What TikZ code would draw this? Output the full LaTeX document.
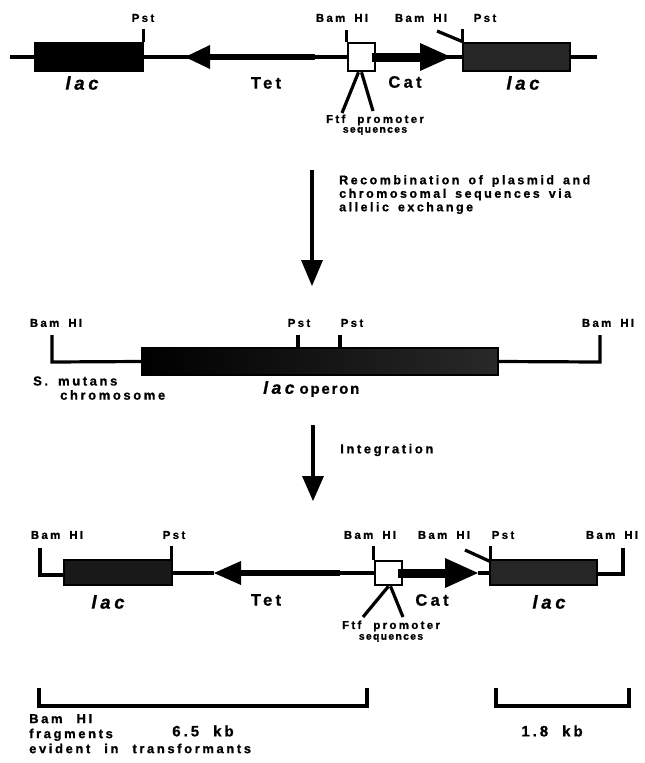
\documentclass[tikz,border=0pt]{standalone}
\usepackage{fontspec}
\setmainfont{Liberation Sans}[BoldFeatures={FakeBold=0.8}]
\newfontfamily\fA{Liberation Sans}[LetterSpace=20,BoldFeatures={FakeBold=0.8},BoldItalicFeatures={FakeBold=0.8}]
\newfontfamily\fC{Liberation Sans}[LetterSpace=12,BoldFeatures={FakeBold=0.8}]
\newcommand{\wsp}[1]{\spaceskip=#1pt plus 0pt minus 0pt\relax}
\begin{document}
\begin{tikzpicture}[x=1pt,y=-1pt,
  lab/.style={font=\fA\bfseries\fontsize{11.5}{13}\selectfont\wsp{9}, inner sep=0pt},
  ftf/.style={font=\fA\bfseries\fontsize{11.5}{13}\selectfont\wsp{12}, inner sep=0pt},
  seqs/.style={font=\fC\bfseries\fontsize{10.5}{12}\selectfont, inner sep=0pt},
  big/.style={font=\fA\bfseries\fontsize{16.5}{18}\selectfont, inner sep=0pt},
  lacl/.style={font=\fA\bfseries\itshape\fontsize{18.5}{20}\selectfont, inner sep=0pt},
  txt/.style={font=\fA\bfseries\fontsize{12.5}{13.5}\selectfont\wsp{9}, inner sep=0pt, align=left},
  smut/.style={font=\fA\bfseries\fontsize{13}{14}\selectfont\wsp{10}, inner sep=0pt},
  kb/.style={font=\fA\bfseries\fontsize{15}{17}\selectfont\wsp{14}, inner sep=0pt},
  frag/.style={font=\fA\bfseries\fontsize{13}{15}\selectfont\wsp{14}, inner sep=0pt, align=left},
  dna/.style={line width=3.2pt},
  site/.style={line width=3.2pt},
  tetline/.style={line width=6pt},
  catline/.style={line width=9pt},
  genebox/.style={draw=black, line width=2.5pt, inner sep=0pt},
  probox/.style={draw=black, fill=white, line width=2.5pt, inner sep=0pt, minimum width=27pt},
  flow/.style={line width=3.8pt}
]
\fill[white] (0,0) rectangle (645,763);
\useasboundingbox (0,0) rectangle (645,763);

% ---------------- top: plasmid construct ----------------
\coordinate (tL) at (10,57);
\coordinate (tR) at (597,57);
\draw[dna] (tL) -- (tR);
\node[genebox, fill=black, minimum width=108pt, minimum height=28pt] (lacA) at (89,57) {};
\draw[site] ([xshift=-1pt]lacA.north east) -- ++(0,-13);
\node[lab] (pstA) at (143,18) {Pst};
\fill (185,57) coordinate (tetTipA) -- (210,45) -- (210,69) -- cycle;
\coordinate (tetBaseA) at (209,57);
\coordinate (tetEndA) at (315,57);
\draw[tetline] (tetBaseA) -- (tetEndA);
\node[big] (tetA) at (266,83) {Tet};
\node[probox, minimum height=28pt] (ftfA) at (361.5,57) {};
\draw[site] (ftfA.north west) -- ++(0,-12);
\node[lab] (bamA1) at (342,18) {Bam HI};
\coordinate (catStartA) at (372,57);
\coordinate (catBaseA) at (422,57);
\draw[catline] (catStartA) -- (catBaseA);
\fill (420,43) -- (451,57) coordinate (catTipA) -- (420,71) -- cycle;
\node[big] (catA) at (405,82) {Cat};
\node[lab] (bamA2) at (421,18) {Bam HI};
\node[genebox, fill=black!85, minimum width=107pt, minimum height=28pt] (lacB) at (516.5,57) {};
\draw[site] ([xshift=1pt]lacB.north west) -- ++(0,-13);
\coordinate (diagA) at (437,31);
\draw[site] (diagA) -- ([xshift=1pt]lacB.north west);
\node[lab] (pstB) at (485,18) {Pst};
\node[lacl] (lacAl) at (82,83) {lac};
\node[lacl] (lacBl) at (523,83) {lac};
\coordinate (legA1) at (342,113);
\coordinate (legA2) at (373,111);
\draw[site] ([xshift=-3pt]ftfA.south) -- (legA1);
\draw[site] ([xshift=0pt]ftfA.south) -- (legA2);
\node[ftf] (ftfAt1) at (375,120) {Ftf promoter};
\node[seqs] (ftfAt2) at (375,131) {sequences};

% ---------------- arrow 1 ----------------
\coordinate (a1s) at (312,170);
\coordinate (a1e) at (312,262);
\draw[flow] (a1s) -- (a1e);
\fill (301,260) -- (323,260) -- (312,286) coordinate (a1tip) -- cycle;
\node[txt, anchor=north west] (recomb) at (339,175) {Recombination of plasmid and\\chromosomal sequences via\\allelic exchange};

% ---------------- middle: chromosome ----------------
\node[lab] (bamM1) at (56,323) {Bam HI};
\node[draw=black, line width=1.5pt, left color=black, right color=black!84, inner sep=0pt,
      minimum width=356pt, minimum height=27pt] (operon) at (320,361.5) {};
\coordinate (mL) at (52,335);
\draw[dna] (mL) -- (52,362) -- (operon.west);
\coordinate (mR) at (600,335);
\draw[dna] (operon.east) -- (600,362) -- (mR);
\draw[site] (298,335) -- (298,348);
\draw[site] (340,335) -- (340,348);
\node[lab] (pstM1) at (299,323) {Pst};
\node[lab] (pstM2) at (352,323) {Pst};
\node[lab] (bamM2) at (608,323) {Bam HI};
\node[smut, anchor=west] (smut) at (33,381) {S. mutans};
\node[smut, anchor=west] (chrom) at (60,395) {chromosome};
\node[anchor=west, inner sep=0pt] (lacop) at (263,389)
  {{\fA\bfseries\itshape\fontsize{17.5}{19}\selectfont lac}\hspace{5pt}{\fC\bfseries\fontsize{15}{16}\selectfont operon}};

% ---------------- arrow 2 ----------------
\coordinate (a2s) at (313,425);
\coordinate (a2e) at (313,478);
\draw[flow] (a2s) -- (a2e);
\fill (302,476) -- (324,476) -- (313,501) coordinate (a2tip) -- cycle;
\node[txt, font=\fA\bfseries\fontsize{13}{14}\selectfont, anchor=west] (integ) at (340,450) {Integration};

% ---------------- bottom: integrated construct ----------------
\node[genebox, fill=black!90, minimum width=108pt, minimum height=25pt] (lacC) at (118,572.5) {};
\coordinate (bL) at (40,548);
\draw[dna] (bL) -- (40,575) -- (lacC.west |- 0,575);
\draw[site] ([xshift=-2pt]lacC.north east) -- ++(0,-13);
\coordinate (tetTipC) at (214,573);
\draw[dna] (lacC.east |- 0,573) -- (tetTipC);
\fill (tetTipC) -- (241,561) -- (241,585) -- cycle;
\draw[tetline] (240,573) -- (340,573);
\node[probox, minimum height=24pt] (ftfC) at (388.5,573) {};
\draw[dna] (340,573) -- (ftfC.west);
\draw[site] (ftfC.north west) -- ++(0,-14);
\draw[catline] (398,573) -- (447,573);
\fill (445,558) -- (478,573) coordinate (catTipC) -- (445,588) -- cycle;
\node[genebox, fill=black!85, minimum width=107pt, minimum height=25pt] (lacD) at (543.5,572.5) {};
\draw[dna] (catTipC) -- (lacD.west |- 0,573);
\draw[site] ([xshift=2pt]lacD.north west) -- ++(0,-13);
\coordinate (diagC) at (465,550);
\draw[site] (diagC) -- ([xshift=2pt,yshift=-3pt]lacD.north west);
\coordinate (bR) at (623,548);
\draw[dna] (lacD.east |- 0,574) -- (623,574) -- (bR);
\node[lab] (bamC1) at (57,535) {Bam HI};
\node[lab] (pstC1) at (174,535) {Pst};
\node[lab] (bamC2) at (370,535) {Bam HI};
\node[lab] (bamC3) at (444,535) {Bam HI};
\node[lab] (pstC2) at (503,535) {Pst};
\node[lab] (bamC4) at (612,535) {Bam HI};
\node[lacl] (lacCl) at (108,602) {lac};
\node[big] (tetC) at (266,600) {Tet};
\node[big] (catC) at (432,600) {Cat};
\node[lacl] (lacDl) at (549,602) {lac};
\coordinate (legC1) at (363,617);
\coordinate (legC2) at (403,617);
\draw[site] ([xshift=0pt]ftfC.south) -- (legC1);
\draw[site] ([xshift=2pt]ftfC.south) -- (legC2);
\node[ftf] (ftfCt1) at (391,626) {Ftf promoter};
\node[seqs] (ftfCt2) at (391,638) {sequences};

% ---------------- fragments ----------------
\coordinate (f1a) at (39,688);
\coordinate (f1b) at (367,688);
\draw[dna] (f1a) -- (39,706) -- (367,706) -- (f1b);
\coordinate (f2a) at (496,688);
\coordinate (f2b) at (629,688);
\draw[dna] (f2a) -- (496,706) -- (629,706) -- (f2b);
\node[frag, anchor=north west] (frag) at (29,714) {Bam HI\\fragments\\evident in transformants};
\node[kb] (kb65) at (203,731) {6.5 kb};
\node[kb] (kb18) at (552,731) {1.8 kb};
\end{tikzpicture}
\end{document}
